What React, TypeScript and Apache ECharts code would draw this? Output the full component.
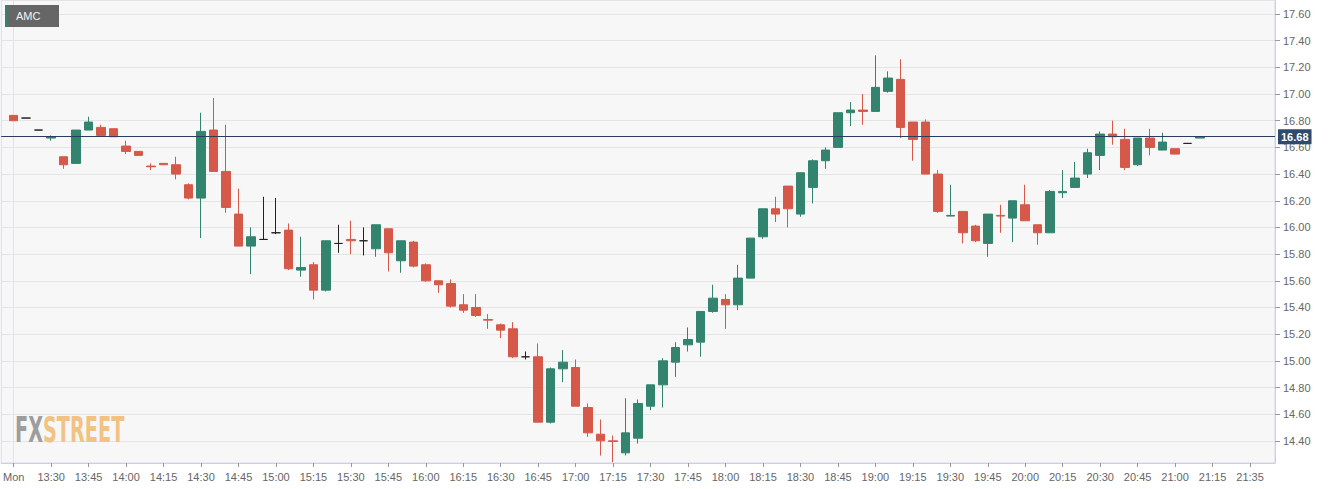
import React, { useEffect, useRef } from "react";
import * as echarts from "echarts";

// ---- data ----
const openVals = [
  16.84, 16.82, 16.73, 16.67, 16.53, 16.48, 16.73, 16.75, 16.74, 16.61,
  16.57, 16.46, 16.48, 16.47, 16.32, 16.22, 16.73, 16.42, 16.10, 15.86,
  15.91, 15.96, 15.98, 15.68, 15.72, 15.53, 15.88, 15.91, 15.90, 15.84,
  15.99, 15.75, 15.89, 15.72, 15.60, 15.58, 15.42, 15.40, 15.31, 15.27,
  15.24, 15.03, 15.03, 14.54, 14.94, 14.95, 14.65, 14.45, 14.40, 14.31,
  14.42, 14.66, 14.82, 14.99, 15.12, 15.14, 15.37, 15.46, 15.42, 15.62,
  15.93, 16.14, 16.31, 16.10, 16.30, 16.50, 16.60, 16.86, 16.88, 16.87,
  17.02, 17.11, 16.79, 16.79, 16.40, 16.085, 16.12, 16.01, 15.88, 16.09,
  16.07, 16.17, 16.02, 15.96, 16.26, 16.30, 16.40, 16.54, 16.70, 16.66,
  16.47, 16.67, 16.58, 16.59, 16.63, 16.67,
];
const closeVals = [
  16.80, 16.82, 16.73, 16.68, 16.47, 16.73, 16.79, 16.69, 16.68, 16.57,
  16.54, 16.455, 16.47, 16.40, 16.22, 16.72, 16.42, 16.15, 15.86, 15.93,
  15.91, 15.96, 15.69, 15.70, 15.53, 15.90, 15.88, 15.90, 15.90, 16.02,
  15.81, 15.90, 15.71, 15.60, 15.57, 15.41, 15.38, 15.34, 15.305, 15.23,
  15.03, 15.03, 14.54, 14.94, 14.99, 14.66, 14.46, 14.40, 14.395, 14.46,
  14.68, 14.82, 15.00, 15.10, 15.16, 15.37, 15.47, 15.42, 15.62, 15.92,
  16.14, 16.10, 16.14, 16.41, 16.50, 16.58, 16.86, 16.88, 16.87, 17.05,
  17.12, 16.75, 16.66, 16.40, 16.12, 16.09, 15.96, 15.90, 16.10, 16.085,
  16.20, 16.05, 15.96, 16.27, 16.27, 16.37, 16.56, 16.70, 16.68, 16.45,
  16.67, 16.60, 16.64, 16.55, 16.63, 16.68,
];
const lowVals = [
  16.80, 16.82, 16.73, 16.65, 16.44, 16.48, 16.73, 16.69, 16.68, 16.55,
  16.54, 16.43, 16.47, 16.36, 16.21, 15.92, 16.42, 16.11, 15.86, 15.65,
  15.91, 15.95, 15.68, 15.63, 15.46, 15.52, 15.81, 15.80, 15.79, 15.78,
  15.67, 15.66, 15.70, 15.59, 15.51, 15.40, 15.36, 15.33, 15.24, 15.17,
  15.02, 15.01, 14.54, 14.53, 14.84, 14.66, 14.43, 14.29, 14.24, 14.29,
  14.38, 14.63, 14.65, 14.88, 15.07, 15.03, 15.36, 15.24, 15.38, 15.62,
  15.915, 16.04, 16.00, 16.08, 16.18, 16.44, 16.60, 16.76, 16.77, 16.87,
  17.01, 16.67, 16.50, 16.40, 16.11, 16.085, 15.88, 15.89, 15.78, 15.96,
  15.89, 16.05, 15.87, 15.96, 16.22, 16.30, 16.37, 16.43, 16.62, 16.43,
  16.46, 16.54, 16.58, 16.55, 16.63, 16.67,
];
const highVals = [
  16.84, 16.82, 16.73, 16.69, 16.53, 16.73, 16.83, 16.77, 16.74, 16.65,
  16.57, 16.48, 16.48, 16.53, 16.33, 16.86, 16.97, 16.77, 16.29, 16.00,
  16.23, 16.22, 16.03, 15.93, 15.74, 15.90, 16.02, 16.05, 16.00, 16.02,
  15.99, 15.90, 15.90, 15.73, 15.60, 15.61, 15.50, 15.50, 15.35, 15.28,
  15.29, 15.07, 15.13, 14.95, 15.08, 15.01, 14.68, 14.56, 14.44, 14.72,
  14.71, 14.82, 15.02, 15.14, 15.25, 15.37, 15.57, 15.50, 15.72, 15.92,
  16.14, 16.23, 16.31, 16.41, 16.51, 16.60, 16.86, 16.94, 17.00, 17.29,
  17.17, 17.26, 16.79, 16.81, 16.43, 16.32, 16.12, 16.02, 16.10, 16.17,
  16.20, 16.32, 16.02, 16.28, 16.43, 16.49, 16.59, 16.72, 16.80, 16.74,
  16.67, 16.74, 16.71, 16.59, 16.63, 16.68,
];
const lastPrice = 16.68;
const seriesName = "AMC";

// x categories: a padding slot, then 5-minute slots from 13:15 (labelled "Mon")
const tailLabels = ["21:25", "21:30", "21:35", "21:40", "21:45"];
const pad2 = (n: number) => (n < 10 ? "0" + n : "" + n);
const categories: string[] = [""];
for (let i = 0; i <= 96; i++) {
  const m = 13 * 60 + 15 + 5 * i;
  categories.push(i === 0 ? "Mon" : `${Math.floor(m / 60)}:${pad2(m % 60)}`);
}
tailLabels.forEach((t) => categories.push(t));

const UP = "#32846f";
const DOWN = "#d55848";
const FONT = '"Liberation Sans", Arial, sans-serif';

export default function App() {
  const ref = useRef<HTMLDivElement>(null);
  useEffect(() => {
    if (!ref.current) return;
    const chart = echarts.init(ref.current, undefined, { renderer: "svg" });
    const data: any[] = categories.map((_, k) => {
      const i = k - 1;
      if (i < 0 || i >= openVals.length) return ["-", "-", "-", "-"];
      return [openVals[i], closeVals[i], lowVals[i], highVals[i]];
    });
    const showIdx = (idx: number) => idx >= 1 && (idx - 1) % 3 === 0;
    chart.setOption({
      animation: false,
      backgroundColor: "#ffffff",
      textStyle: { fontFamily: FONT },
      grid: {
        left: 0,
        right: 65,
        top: 0,
        bottom: 26,
        show: true,
        backgroundColor: "#f7f7f7",
        borderColor: "#d4d8ea",
        borderWidth: 1,
      },
      xAxis: {
        type: "category",
        data: categories,
        boundaryGap: false,
        axisLine: { lineStyle: { color: "#ccd0e2" } },
        axisTick: { interval: showIdx, length: 4, lineStyle: { color: "#999" } },
        axisLabel: { interval: showIdx, color: "#666", fontSize: 11, margin: 8, fontFamily: FONT },
        splitLine: { show: true, interval: (idx: number) => idx === 1, lineStyle: { color: "#e2e2e2" } },
      },
      yAxis: {
        type: "value",
        position: "right",
        min: 14.234,
        max: 17.705,
        splitNumber: 16,
        minInterval: 0.2,
        maxInterval: 0.2,
        axisLine: { show: true, lineStyle: { color: "#ccd0e2" } },
        axisTick: { show: true, length: 5, lineStyle: { color: "#999" } },
        axisLabel: {
          color: "#666",
          fontSize: 11,
          margin: 8,
          fontFamily: FONT,
          showMinLabel: false,
          showMaxLabel: false,
          formatter: (v: number) => v.toFixed(2),
        },
        splitLine: { lineStyle: { color: "#e4e4e4" } },
      },
      series: [
        {
          name: seriesName,
          type: "candlestick",
          data,
          barWidth: 9,
          itemStyle: {
            color: UP,
            color0: DOWN,
            borderColor: UP,
            borderColor0: DOWN,
            borderColorDoji: "#222",
            borderWidth: 1,
          },
          markLine: {
            silent: true,
            symbol: "none",
            animation: false,
            data: [{ yAxis: lastPrice }],
            lineStyle: { color: "#2c3d5b", width: 1, type: "solid" },
            label: {
              show: true,
              position: "end",
              formatter: lastPrice.toFixed(2),
              color: "#fff",
              backgroundColor: "#2e4a6d",
              fontWeight: "bold",
              fontSize: 11,
              fontFamily: FONT,
              padding: [2, 3, 2, 3],
              distance: 3,
            },
          },
        },
      ],
      graphic: [
        { type: "rect", z: 10, shape: { x: 5, y: 5, width: 54, height: 22 }, style: { fill: "#666" } },
        { type: "rect", z: 11, shape: { x: 5, y: 5, width: 2, height: 22 }, style: { fill: UP } },
        {
          type: "text",
          z: 11,
          x: 16,
          y: 16,
          style: { text: seriesName, fill: "#f2f2f2", font: `11px ${FONT}`, verticalAlign: "middle" },
        },
        {
          type: "text",
          z: 1,
          x: 15,
          y: 430,
          scaleX: 0.535,
          style: {
            text: "{a|FX}{b|STREET}",
            verticalAlign: "middle",
            rich: {
              a: { fill: "#9d9d9d", fontSize: 36, fontWeight: "bold", fontFamily: '"DejaVu Sans"' },
              b: { fill: "#f2c184", fontSize: 36, fontWeight: "bold", fontFamily: '"DejaVu Sans"' },
            },
          },
        },
      ],
    });
    return () => chart.dispose();
  }, []);
  return (
    <div
      ref={ref}
      style={{ position: "fixed", left: 0, top: 0, width: 1340, height: 489 }}
    />
  );
}
